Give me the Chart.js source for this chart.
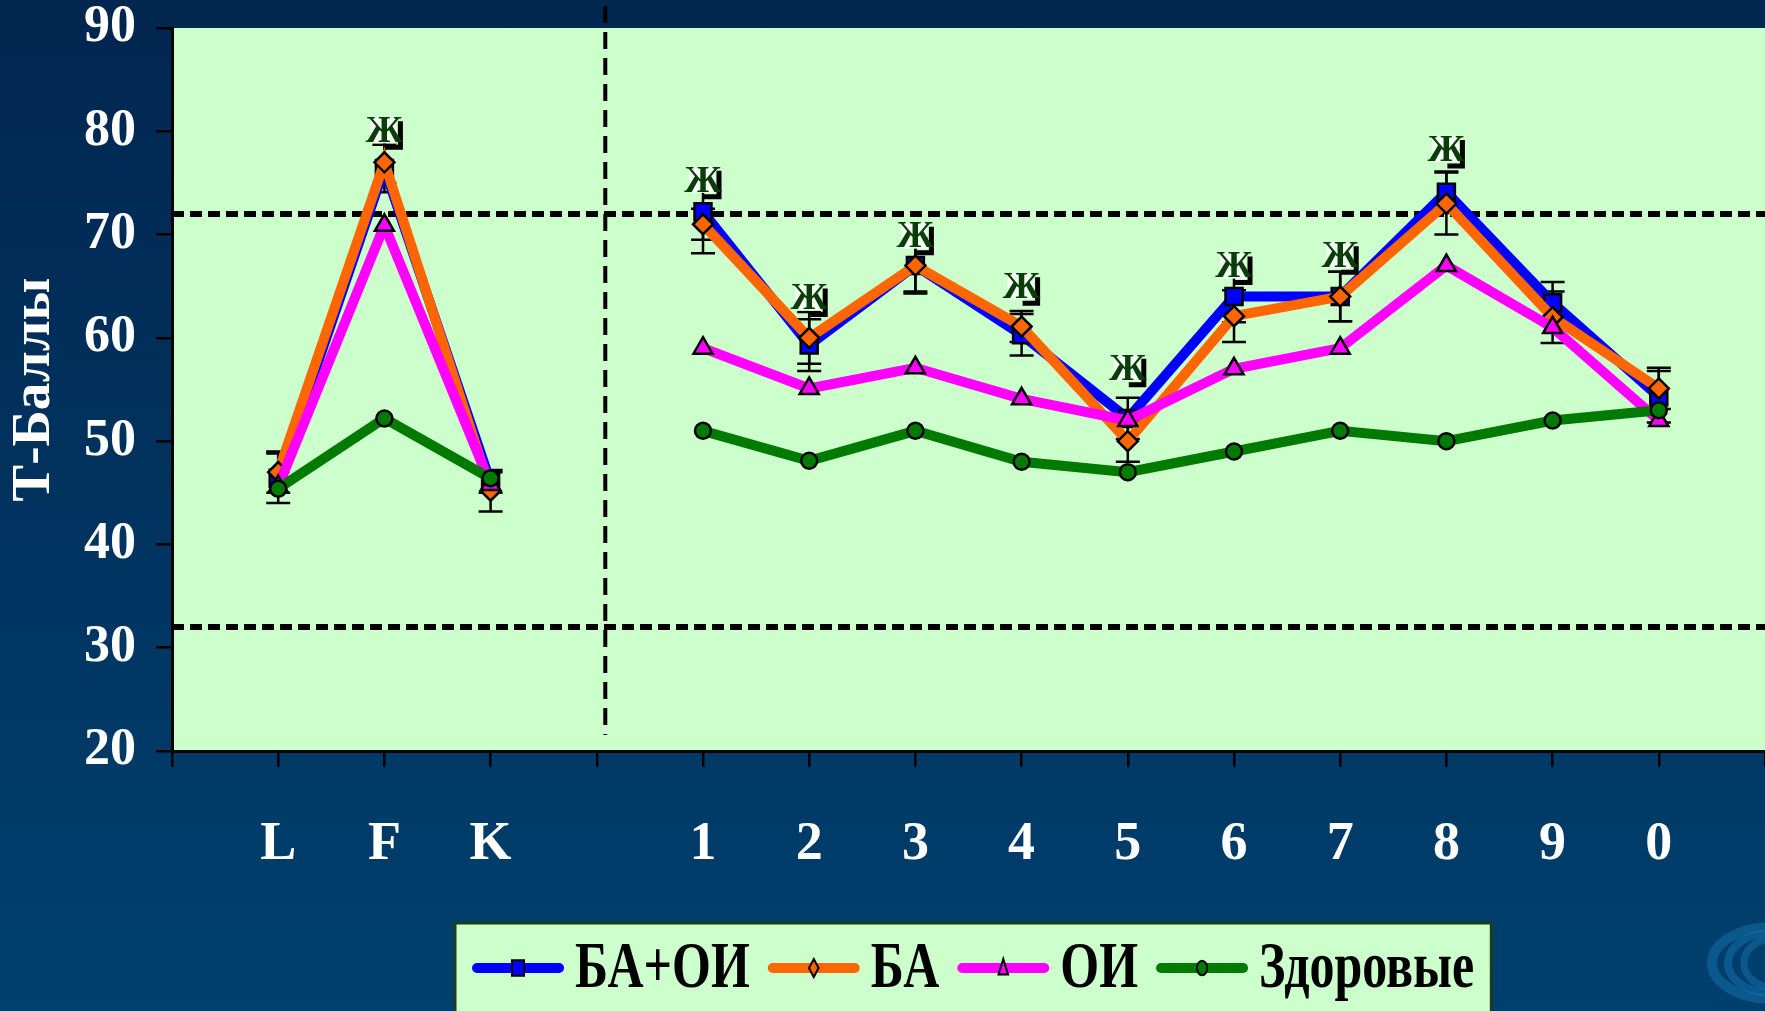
<!DOCTYPE html>
<html>
<head>
<meta charset="utf-8">
<script src="https://cdn.jsdelivr.net/npm/chart.js@4/dist/chart.umd.min.js"></script>
<style>
  html, body { margin: 0; padding: 0; }
  body { width: 1765px; height: 1011px; background: linear-gradient(#012650, #00406e); overflow: hidden; }
  #wrap { position: relative; width: 1765px; height: 1011px; }
</style>
</head>
<body>
<div id="wrap"><canvas id="chart"></canvas></div>
<script>
// scale columns: empty slot, L F K, gap, clinical scales 1..0, empty slot
var labels = ['', 'L', 'F', 'K', '', '1', '2', '3', '4', '5', '6', '7', '8', '9', '0', ''];

var baOi    = [null, 46.4, 76.4, 46.0, null, 72.2, 59.3, 67.0, 60.3, 52.2, 64.0, 64.0, 74.1, 63.4, 54.3, null];
var ba      = [null, 47.0, 77.0, 45.2, null, 71.0, 60.0, 67.0, 61.1, 50.0, 62.1, 64.0, 73.0, 62.0, 55.1, null];
var oi      = [null, 45.6, 70.9, 45.8, null, 59.0, 55.1, 57.1, 54.1, 52.0, 57.0, 59.0, 67.0, 61.0, 52.0, null];
var healthy = [null, 45.4, 52.2, 46.4, null, 51.0, 48.1, 51.0, 48.0, 47.0, 49.0, 51.0, 50.0, 52.0, 53.0, null];

// error half-widths (БА+ОИ and БА)
var errBaOi = [null, 2.4, 2.3, 1.0, null, 4.0, 2.5, 2.5, 2.0, 2.0, 2.5, 2.4, 2.0, 2.0, 2.5, null];
var errBa   = [null, 2.0, 2.0, 2.0, null, 1.5, 2.5, 2.7, 1.5, 2.0, 2.5, 2.4, 3.0, 2.5, 2.0, null];

// where the significance marks sit
var markVals = [null, null, 80.0, null, null, 75.2, 63.8, 69.8, 64.9, 57.0, 66.9, 67.9, 78.2, null, null, null];

// norm band and the separator between validity and clinical scales
var normLines = [72, 32];
var separatorAt = 4.08;

var yTicks = [20, 30, 40, 50, 60, 70, 80, 90];

var serif = "'Liberation Serif', 'Times New Roman', serif";

function drawMarker(ctx, style, x, y, r, fill, stroke) {
    ctx.save();
    ctx.fillStyle = fill;
    ctx.strokeStyle = stroke;
    ctx.lineWidth = 2;
    ctx.beginPath();
    if (style === 'rect') {
        ctx.rect(x - r, y - r * 1.3, 2 * r, 2.6 * r);
    } else if (style === 'rectRot') {
        ctx.moveTo(x, y - r * 1.5); ctx.lineTo(x + r * 0.8, y); ctx.lineTo(x, y + r * 1.5); ctx.lineTo(x - r * 0.8, y); ctx.closePath();
    } else if (style === 'triangle') {
        ctx.moveTo(x, y - r * 1.5); ctx.lineTo(x + r * 0.8, y + r * 1.1); ctx.lineTo(x - r * 0.8, y + r * 1.1); ctx.closePath();
    } else {
        ctx.ellipse(x, y, r * 0.85, r * 1.2, 0, 0, Math.PI * 2);
    }
    ctx.fill();
    ctx.stroke();
    ctx.restore();
}

var chartDecor = {
    id: 'chartDecor',
    beforeDraw: function (chart) {
        var ctx = chart.ctx, a = chart.chartArea;
        ctx.save();
        // swirl in the corner of the slide
        ctx.strokeStyle = 'rgba(20,110,170,0.55)';
        [[60, 22, 10], [44, 16, 8], [28, 10, 7]].forEach(function (r) {
            ctx.lineWidth = r[2];
            ctx.beginPath();
            ctx.ellipse(1772, 963, r[0], r[1] + 14, 0, 0, Math.PI * 2);
            ctx.stroke();
        });
        ctx.fillStyle = '#ccffcc';
        ctx.fillRect(a.left, a.top, a.right - a.left, a.bottom - a.top);
        ctx.restore();
    },
    beforeDatasetsDraw: function (chart) {
        var ctx = chart.ctx, a = chart.chartArea;
        var xs = chart.scales.x, ys = chart.scales.y;
        ctx.save();
        ctx.strokeStyle = '#000';
        // norm lines
        ctx.lineWidth = 6;
        ctx.setLineDash([12, 6]);
        normLines.forEach(function (v) {
            var y = ys.getPixelForValue(v);
            ctx.beginPath(); ctx.moveTo(a.left, y); ctx.lineTo(a.right, y); ctx.stroke();
        });
        // separator
        ctx.lineWidth = 4;
        ctx.setLineDash([17, 9]);
        var sx = xs.getPixelForValue(separatorAt);
        ctx.beginPath(); ctx.moveTo(sx, 6); ctx.lineTo(sx, a.bottom - 16); ctx.stroke();
        ctx.setLineDash([]);
        // error bars
        ctx.lineWidth = 2.5;
        [[baOi, errBaOi], [ba, errBa]].forEach(function (pair) {
            pair[0].forEach(function (v, i) {
                var e = pair[1][i];
                if (v === null || e === null) return;
                var x = xs.getPixelForValue(i);
                var y1 = ys.getPixelForValue(v - e), y2 = ys.getPixelForValue(v + e);
                ctx.beginPath();
                ctx.moveTo(x, y1); ctx.lineTo(x, y2);
                ctx.moveTo(x - 12, y1); ctx.lineTo(x + 12, y1);
                ctx.moveTo(x - 12, y2); ctx.lineTo(x + 12, y2);
                ctx.stroke();
            });
        });
        ctx.restore();
    },
    afterDatasetsDraw: function (chart) {
        var ctx = chart.ctx;
        var xs = chart.scales.x, ys = chart.scales.y;
        ctx.save();
        markVals.forEach(function (v, i) {
            if (v === null) return;
            var x = xs.getPixelForValue(i), y = ys.getPixelForValue(v);
            ctx.fillStyle = '#f4fff4';
            ctx.fillRect(x - 14, y - 14, 26, 26);
            ctx.strokeStyle = '#000';
            ctx.lineWidth = 5;
            ctx.beginPath();
            ctx.moveTo(x + 16, y - 10); ctx.lineTo(x + 16, y + 16); ctx.lineTo(x + 1, y + 16);
            ctx.stroke();
            ctx.fillStyle = '#0b3d0b';
            ctx.font = 'bold 38px ' + serif;
            ctx.textAlign = 'center';
            ctx.textBaseline = 'middle';
            ctx.fillText('Ж', x, y + 1);
        });
        ctx.restore();
    },
    afterDraw: function (chart) {
        // legend box at the bottom
        var ctx = chart.ctx;
        var sets = chart.data.datasets;
        var lineLen = 92, gapIn = 11, gapOut = 18, pad = 17;
        ctx.save();
        ctx.font = 'bold 50px ' + serif;
        var total = pad * 2;
        sets.forEach(function (ds, i) {
            total += lineLen + gapIn + ctx.measureText(ds.label).width + (i < sets.length - 1 ? gapOut : 0);
        });
        var left = 455;
        var top = 923, cy = 968;
        ctx.fillStyle = '#ccffcc';
        ctx.fillRect(left, top, total, 1011 - top + 5);
        ctx.strokeStyle = '#203a20';
        ctx.lineWidth = 3;
        ctx.strokeRect(left, top, total, 1011 - top + 5);
        var x = left + pad;
        sets.forEach(function (ds) {
            ctx.strokeStyle = ds.borderColor;
            ctx.lineWidth = 10;
            ctx.lineCap = 'round';
            ctx.beginPath(); ctx.moveTo(x + 5, cy); ctx.lineTo(x + lineLen - 5, cy); ctx.stroke();
            drawMarker(ctx, ds.pointStyle, x + lineLen / 2, cy, 6, ds.pointBackgroundColor, '#000');
            x += lineLen + gapIn;
            ctx.fillStyle = '#000';
            ctx.textAlign = 'left';
            ctx.textBaseline = 'middle';
            ctx.save();
            ctx.translate(x, cy + 2);
            ctx.scale(1, 1.3);
            ctx.fillText(ds.label, 0, 0);
            ctx.restore();
            x += ctx.measureText(ds.label).width + gapOut;
        });
        ctx.restore();
    }
};

function series(label, data, color, style, radius, order) {
    return {
        label: label,
        data: data,
        borderColor: color,
        backgroundColor: color,
        borderWidth: 10,
        pointStyle: style,
        pointRadius: radius,
        pointHoverRadius: radius,
        pointBackgroundColor: color,
        pointBorderColor: '#000',
        pointBorderWidth: 2.5,
        tension: 0,
        spanGaps: false,
        order: order
    };
}

new Chart(document.getElementById('chart').getContext('2d'), {
    type: 'line',
    data: {
        labels: labels,
        datasets: [
            series('БА+ОИ', baOi, '#0000ff', 'rect', 12, 4),
            series('БА', ba, '#ff6600', 'rectRot', 10, 3),
            series('ОИ', oi, '#ff00ff', 'triangle', 11, 2),
            series('Здоровые', healthy, '#007a00', 'circle', 8, 1)
        ]
    },
    options: {
        responsive: true,
        maintainAspectRatio: false,
        animation: false,
        layout: { autoPadding: false, padding: { top: 28, right: 0, bottom: 0, left: 0 } },
        plugins: {
            legend: { display: false },
            tooltip: { enabled: false }
        },
        scales: {
            x: {
                offset: false,
                grid: { drawOnChartArea: false, drawTicks: true, tickLength: 16, color: '#000', lineWidth: 2.5 },
                border: { display: true, color: '#000', width: 3 },
                ticks: {
                    autoSkip: false, maxRotation: 0, padding: 46,
                    color: '#fff', font: { family: serif, size: 54, weight: 'bold' }
                },
                afterFit: function (scale) {
                    scale.height = 260;
                    scale.paddingLeft = 0; scale.paddingRight = 0;
                }
            },
            y: {
                min: 20, max: 90,
                afterBuildTicks: function (scale) {
                    scale.ticks = yTicks.map(function (v) { return { value: v }; });
                },
                grid: { drawOnChartArea: false, drawTicks: true, tickLength: 16, color: '#000', lineWidth: 2.5 },
                border: { display: true, color: '#000', width: 3 },
                ticks: {
                    padding: 20,
                    color: '#fff', font: { family: serif, size: 52, weight: 'bold' }
                },
                title: {
                    display: true, text: 'Т-Баллы', color: '#fff',
                    font: { family: serif, size: 55, weight: 'bold' },
                    padding: { top: 2, bottom: 0 }
                },
                afterFit: function (scale) {
                    scale.width = 172;
                    scale.paddingTop = 0; scale.paddingBottom = 0;
                }
            }
        }
    },
    plugins: [chartDecor]
});
</script>
</body>
</html>
